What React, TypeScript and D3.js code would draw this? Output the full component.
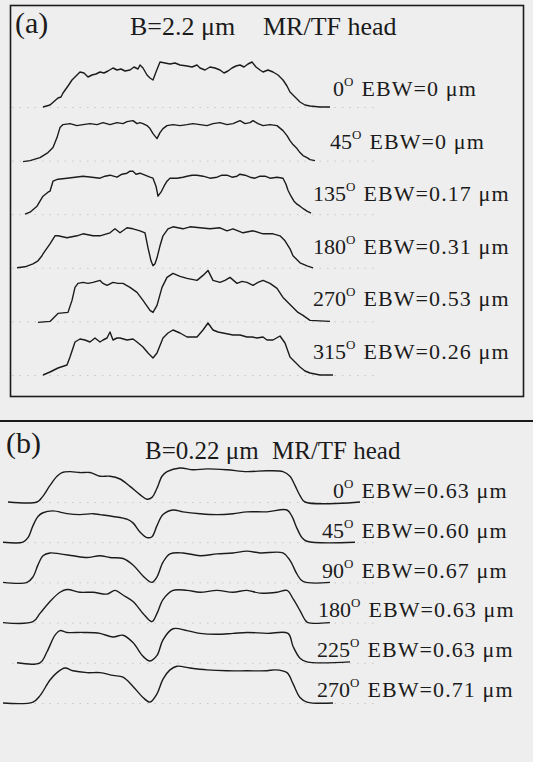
import React from 'react';
import * as d3 from 'd3';

type Pt = [number, number];

// Track profiles: [position (a.u.), signal amplitude (a.u.)]
const panelAAngles = ['0', '45', '135', '180', '270', '315'];
const panelAEbw = ['0', '0', '0.17', '0.31', '0.53', '0.26'];
const panelBAngles = ['0', '45', '90', '180', '225', '270'];
const panelBEbw = ['0.63', '0.60', '0.67', '0.63', '0.63', '0.71'];

const traceA0: Pt[] = [
  [43, 0], [50, 2], [58, 9], [61, 10], [63, 14], [68, 21], [72, 27], [76, 31], [80, 35], [84, 34], [88, 30],
  [92, 32], [96, 33], [100, 35], [104, 34], [108, 36], [113, 39], [117, 37], [121, 38], [125, 36], [130, 37],
  [134, 40], [138, 38], [140, 42], [143, 39], [147, 32], [150, 29], [153, 27], [156, 35], [160, 45], [165, 44],
  [170, 43], [175, 44], [180, 42], [187, 41], [192, 40], [197, 42], [200, 39], [205, 37], [210, 40], [215, 39],
  [220, 37], [224, 34], [228, 36], [232, 39], [236, 41], [240, 42], [244, 40], [248, 43], [252, 45], [256, 40],
  [260, 37], [263, 35], [268, 37], [273, 35], [278, 32], [283, 27], [287, 21], [290, 15], [295, 10], [300, 5],
  [305, 2], [310, 1], [320, 0], [330, 0],
];
const traceA45: Pt[] = [
  [23, -1], [30, 0], [40, 3], [48, 8], [53, 13], [57, 23], [60, 33], [63, 36], [70, 37], [77, 35], [83, 36],
  [90, 37], [97, 36], [103, 38], [110, 36], [117, 38], [123, 37], [127, 39], [133, 40], [137, 37], [140, 38],
  [143, 37], [147, 35], [150, 32], [153, 27], [157, 22], [160, 28], [163, 32], [167, 35], [173, 36], [180, 35],
  [187, 36], [193, 37], [200, 36], [207, 35], [213, 37], [220, 38], [227, 36], [233, 37], [240, 40], [245, 37],
  [250, 38], [253, 40], [258, 37], [263, 35], [270, 36], [277, 35], [283, 30], [287, 25], [290, 20], [293, 16],
  [297, 12], [300, 8], [303, 5], [307, 3], [310, 1], [315, 0],
];
const traceA135: Pt[] = [
  [25, 0], [30, 2], [37, 8], [43, 18], [48, 22], [50, 23], [53, 33], [58, 35], [67, 36], [75, 37], [83, 38],
  [92, 37], [100, 36], [105, 38], [110, 39], [117, 37], [122, 40], [127, 41], [130, 43], [133, 43], [136, 40],
  [140, 41], [145, 39], [150, 37], [153, 36], [156, 28], [158, 18], [161, 22], [164, 28], [167, 33], [170, 36],
  [177, 36], [183, 37], [187, 38], [192, 39], [197, 39], [203, 38], [210, 36], [217, 37], [222, 39], [227, 39],
  [232, 37], [237, 38], [240, 40], [245, 39], [250, 37], [255, 36], [260, 38], [265, 38], [270, 36], [277, 37],
  [283, 36], [286, 30], [288, 24], [291, 18], [294, 13], [297, 10], [300, 8], [304, 5], [307, 3], [311, 1],
];
const traceA180: Pt[] = [
  [17, 0], [25, 1], [33, 4], [38, 7], [42, 12], [43, 14], [50, 24], [55, 32], [58, 32], [67, 30], [77, 32],
  [83, 34], [93, 32], [100, 32], [110, 35], [115, 39], [120, 35], [127, 40], [133, 39], [140, 37], [145, 35],
  [148, 20], [151, 7], [153, 2], [155, 4], [157, 10], [160, 22], [163, 32], [168, 39], [173, 41], [183, 39],
  [190, 41], [200, 40], [210, 39], [220, 40], [227, 37], [233, 39], [243, 35], [253, 37], [263, 34], [273, 34],
  [280, 32], [285, 27], [290, 19], [293, 12], [300, 5], [307, 2], [313, 0],
];
const traceA270: Pt[] = [
  [38, -1], [50, 0], [58, 8], [68, 9], [72, 21], [75, 34], [78, 38], [83, 39], [88, 38], [93, 39], [100, 41],
  [103, 38], [107, 36], [113, 39], [118, 38], [123, 38], [130, 34], [137, 29], [143, 21], [150, 11], [153, 9],
  [157, 16], [162, 34], [167, 44], [173, 48], [180, 45], [187, 43], [197, 41], [203, 46], [208, 51], [213, 41],
  [220, 39], [225, 41], [230, 44], [237, 38], [242, 40], [247, 39], [253, 36], [258, 39], [263, 41], [270, 38],
  [277, 33], [283, 24], [288, 19], [293, 14], [298, 9], [303, 6], [310, 1], [330, 0],
];
const traceA315: Pt[] = [
  [43, 0], [50, 3], [58, 7], [67, 10], [70, 18], [75, 33], [80, 36], [85, 35], [90, 33], [95, 37], [100, 33],
  [103, 35], [107, 37], [110, 43], [113, 35], [117, 37], [120, 37], [127, 35], [133, 36], [137, 33], [143, 28],
  [148, 22], [153, 17], [157, 22], [163, 37], [168, 42], [173, 45], [180, 42], [187, 38], [192, 38], [197, 38],
  [203, 45], [208, 52], [213, 45], [218, 43], [223, 42], [233, 40], [240, 40], [247, 38], [252, 38], [257, 37],
  [263, 38], [267, 35], [273, 35], [280, 39], [285, 32], [290, 18], [295, 13], [300, 8], [305, 4], [310, 2],
  [320, 0], [333, 0],
];

const traceB0: Pt[] = [
  [8, 0], [37, 0], [42, 5], [50, 18], [57, 28], [62, 32], [70, 33], [80, 32], [90, 32], [100, 28], [110, 28],
  [120, 25], [130, 17], [140, 8], [147, 3], [152, 5], [157, 15], [162, 28], [167, 33], [180, 37], [193, 35],
  [207, 36], [227, 35], [247, 33], [267, 34], [283, 33], [290, 28], [295, 18], [300, 7], [305, 0], [360, 0],
];
const traceB45: Pt[] = [
  [3, 0], [23, 0], [28, 5], [33, 18], [38, 28], [43, 32], [53, 34], [67, 31], [80, 30], [93, 31], [100, 30],
  [113, 28], [127, 25], [133, 21], [140, 11], [147, 5], [152, 6], [157, 18], [163, 30], [173, 35], [183, 33],
  [200, 31], [217, 30], [233, 31], [247, 33], [267, 33], [287, 35], [292, 28], [297, 15], [302, 5], [307, 1],
  [355, 0],
];
const traceB90: Pt[] = [
  [3, 0], [27, 0], [33, 6], [38, 19], [43, 29], [50, 32], [60, 31], [73, 29], [87, 27], [100, 29], [110, 27],
  [123, 26], [133, 19], [143, 7], [152, 0], [157, 6], [163, 22], [170, 31], [183, 32], [200, 29], [217, 31],
  [233, 32], [247, 34], [260, 32], [283, 32], [290, 24], [297, 9], [303, 1], [330, 0],
];
const traceB180: Pt[] = [
  [3, 0], [33, 1], [40, 10], [50, 23], [60, 33], [67, 36], [80, 33], [93, 33], [107, 31], [115, 35], [123, 30],
  [133, 23], [143, 10], [152, 1], [157, 10], [163, 25], [173, 35], [187, 35], [200, 33], [217, 35], [233, 33],
  [247, 35], [260, 32], [277, 33], [287, 35], [293, 26], [300, 13], [305, 3], [308, 0], [330, 0],
];
const traceB225: Pt[] = [
  [17, 0], [40, 0], [47, 12], [55, 30], [60, 35], [67, 33], [83, 33], [100, 32], [113, 28], [123, 30], [133, 22],
  [143, 7], [150, 2], [157, 8], [163, 25], [173, 37], [187, 35], [200, 32], [217, 31], [233, 32], [247, 33],
  [267, 32], [288, 32], [293, 18], [300, 5], [307, 1], [350, 1],
];
const traceB270: Pt[] = [
  [3, 0], [33, 1], [40, 8], [50, 25], [57, 33], [65, 38], [73, 35], [87, 33], [100, 33], [113, 30], [123, 28],
  [133, 18], [143, 6], [150, 1], [157, 10], [163, 26], [170, 36], [177, 40], [190, 38], [207, 36], [227, 35],
  [247, 35], [267, 35], [275, 36], [287, 33], [293, 21], [300, 6], [307, 1], [333, 0],
];

const panelATraces = [traceA0, traceA45, traceA135, traceA180, traceA270, traceA315];
const panelBTraces = [traceB0, traceB45, traceB90, traceB180, traceB225, traceB270];

const W = 533;
const H = 762;
const FONT = '"Liberation Serif", "Times New Roman", serif';
const INK = '#1b1b1b';

// Left edge of each row label
const labelXA = [333, 330, 313, 313, 313, 313];
const labelXB = [333, 322, 322, 318, 317, 317];

const x = d3.scaleLinear().domain([0, W]).range([0, W]);

interface PanelProps {
  angles: string[];
  ebw: string[];
  traces: Pt[][];
  rowRange: [number, number];
  labelRange: [number, number];
  labelX: number[];
  ampPx: number;
  smooth: boolean;
}

function Panel({ angles, ebw, traces, rowRange, labelRange, labelX, ampPx, smooth }: PanelProps) {
  const row = d3.scalePoint<string>().domain(angles).range(rowRange);
  const labelRow = d3.scalePoint<string>().domain(angles).range(labelRange);
  return (
    <g>
      {angles.map((a, i) => {
        const base = row(a) as number;
        const y = d3.scaleLinear().domain([0, 50]).range([base, base - ampPx]);
        const line = d3
          .line<Pt>()
          .x((d) => x(d[0]))
          .y((d) => y(d[1]))
          .curve(smooth ? d3.curveCatmullRom.alpha(0.5) : d3.curveLinear);
        const ly = labelRow(a) as number;
        return (
          <g key={a}>
            <line
              x1={x(12)}
              x2={x(378)}
              y1={y(0) + 0.5}
              y2={y(0) + 0.5}
              stroke="#c8c8c8"
              strokeWidth={1}
              strokeDasharray="1.5 6"
            />
            <path d={line(traces[i]) ?? ''} fill="none" stroke={INK} strokeWidth={1.4} strokeLinejoin="round" />
            <text x={labelX[i]} y={ly} fontFamily={FONT} fontSize={22} fill={INK}>
              <tspan>{a}</tspan>
              <tspan fontSize={13} dy={-10}>O</tspan>
              <tspan dy={10} dx={8} letterSpacing={1.1}>{`EBW=${ebw[i]} \u03bcm`}</tspan>
            </text>
          </g>
        );
      })}
    </g>
  );
}

export default function App() {
  return (
    <svg
      width={W}
      height={H}
      viewBox={`0 0 ${W} ${H}`}
      style={{ position: 'absolute', left: 0, top: 0, display: 'block' }}
    >
      <rect x={0} y={0} width={W} height={H} fill="#eeeeee" />

      {/* panel (a) */}
      <rect x={10.5} y={5.5} width={513} height={391} fill="none" stroke={INK} strokeWidth={1.6} />
      <text x={15} y={33} fontFamily={FONT} fontSize={30} fill={INK}>(a)</text>
      <text y={35} fontFamily={FONT} fontSize={26} fill={INK}>
        <tspan x={130}>{'B=2.2 \u03bcm'}</tspan>
        <tspan x={263}>MR/TF head</tspan>
      </text>
      <Panel
        angles={panelAAngles}
        ebw={panelAEbw}
        traces={panelATraces}
        rowRange={[107, 375]}
        labelRange={[96, 359]}
        labelX={labelXA}
        ampPx={50}
        smooth={false}
      />

      {/* panel (b) */}
      <line x1={0} x2={W} y1={421} y2={421} stroke={INK} strokeWidth={2} />
      <text x={6} y={453} fontFamily={FONT} fontSize={30} fill={INK}>(b)</text>
      <text y={459} fontFamily={FONT} fontSize={25} fill={INK}>
        <tspan x={145}>{'B=0.22 \u03bcm'}</tspan>
        <tspan x={272}>MR/TF head</tspan>
      </text>
      <Panel
        angles={panelBAngles}
        ebw={panelBEbw}
        traces={panelBTraces}
        rowRange={[502, 703]}
        labelRange={[498, 697]}
        labelX={labelXB}
        ampPx={46}
        smooth={true}
      />
    </svg>
  );
}
